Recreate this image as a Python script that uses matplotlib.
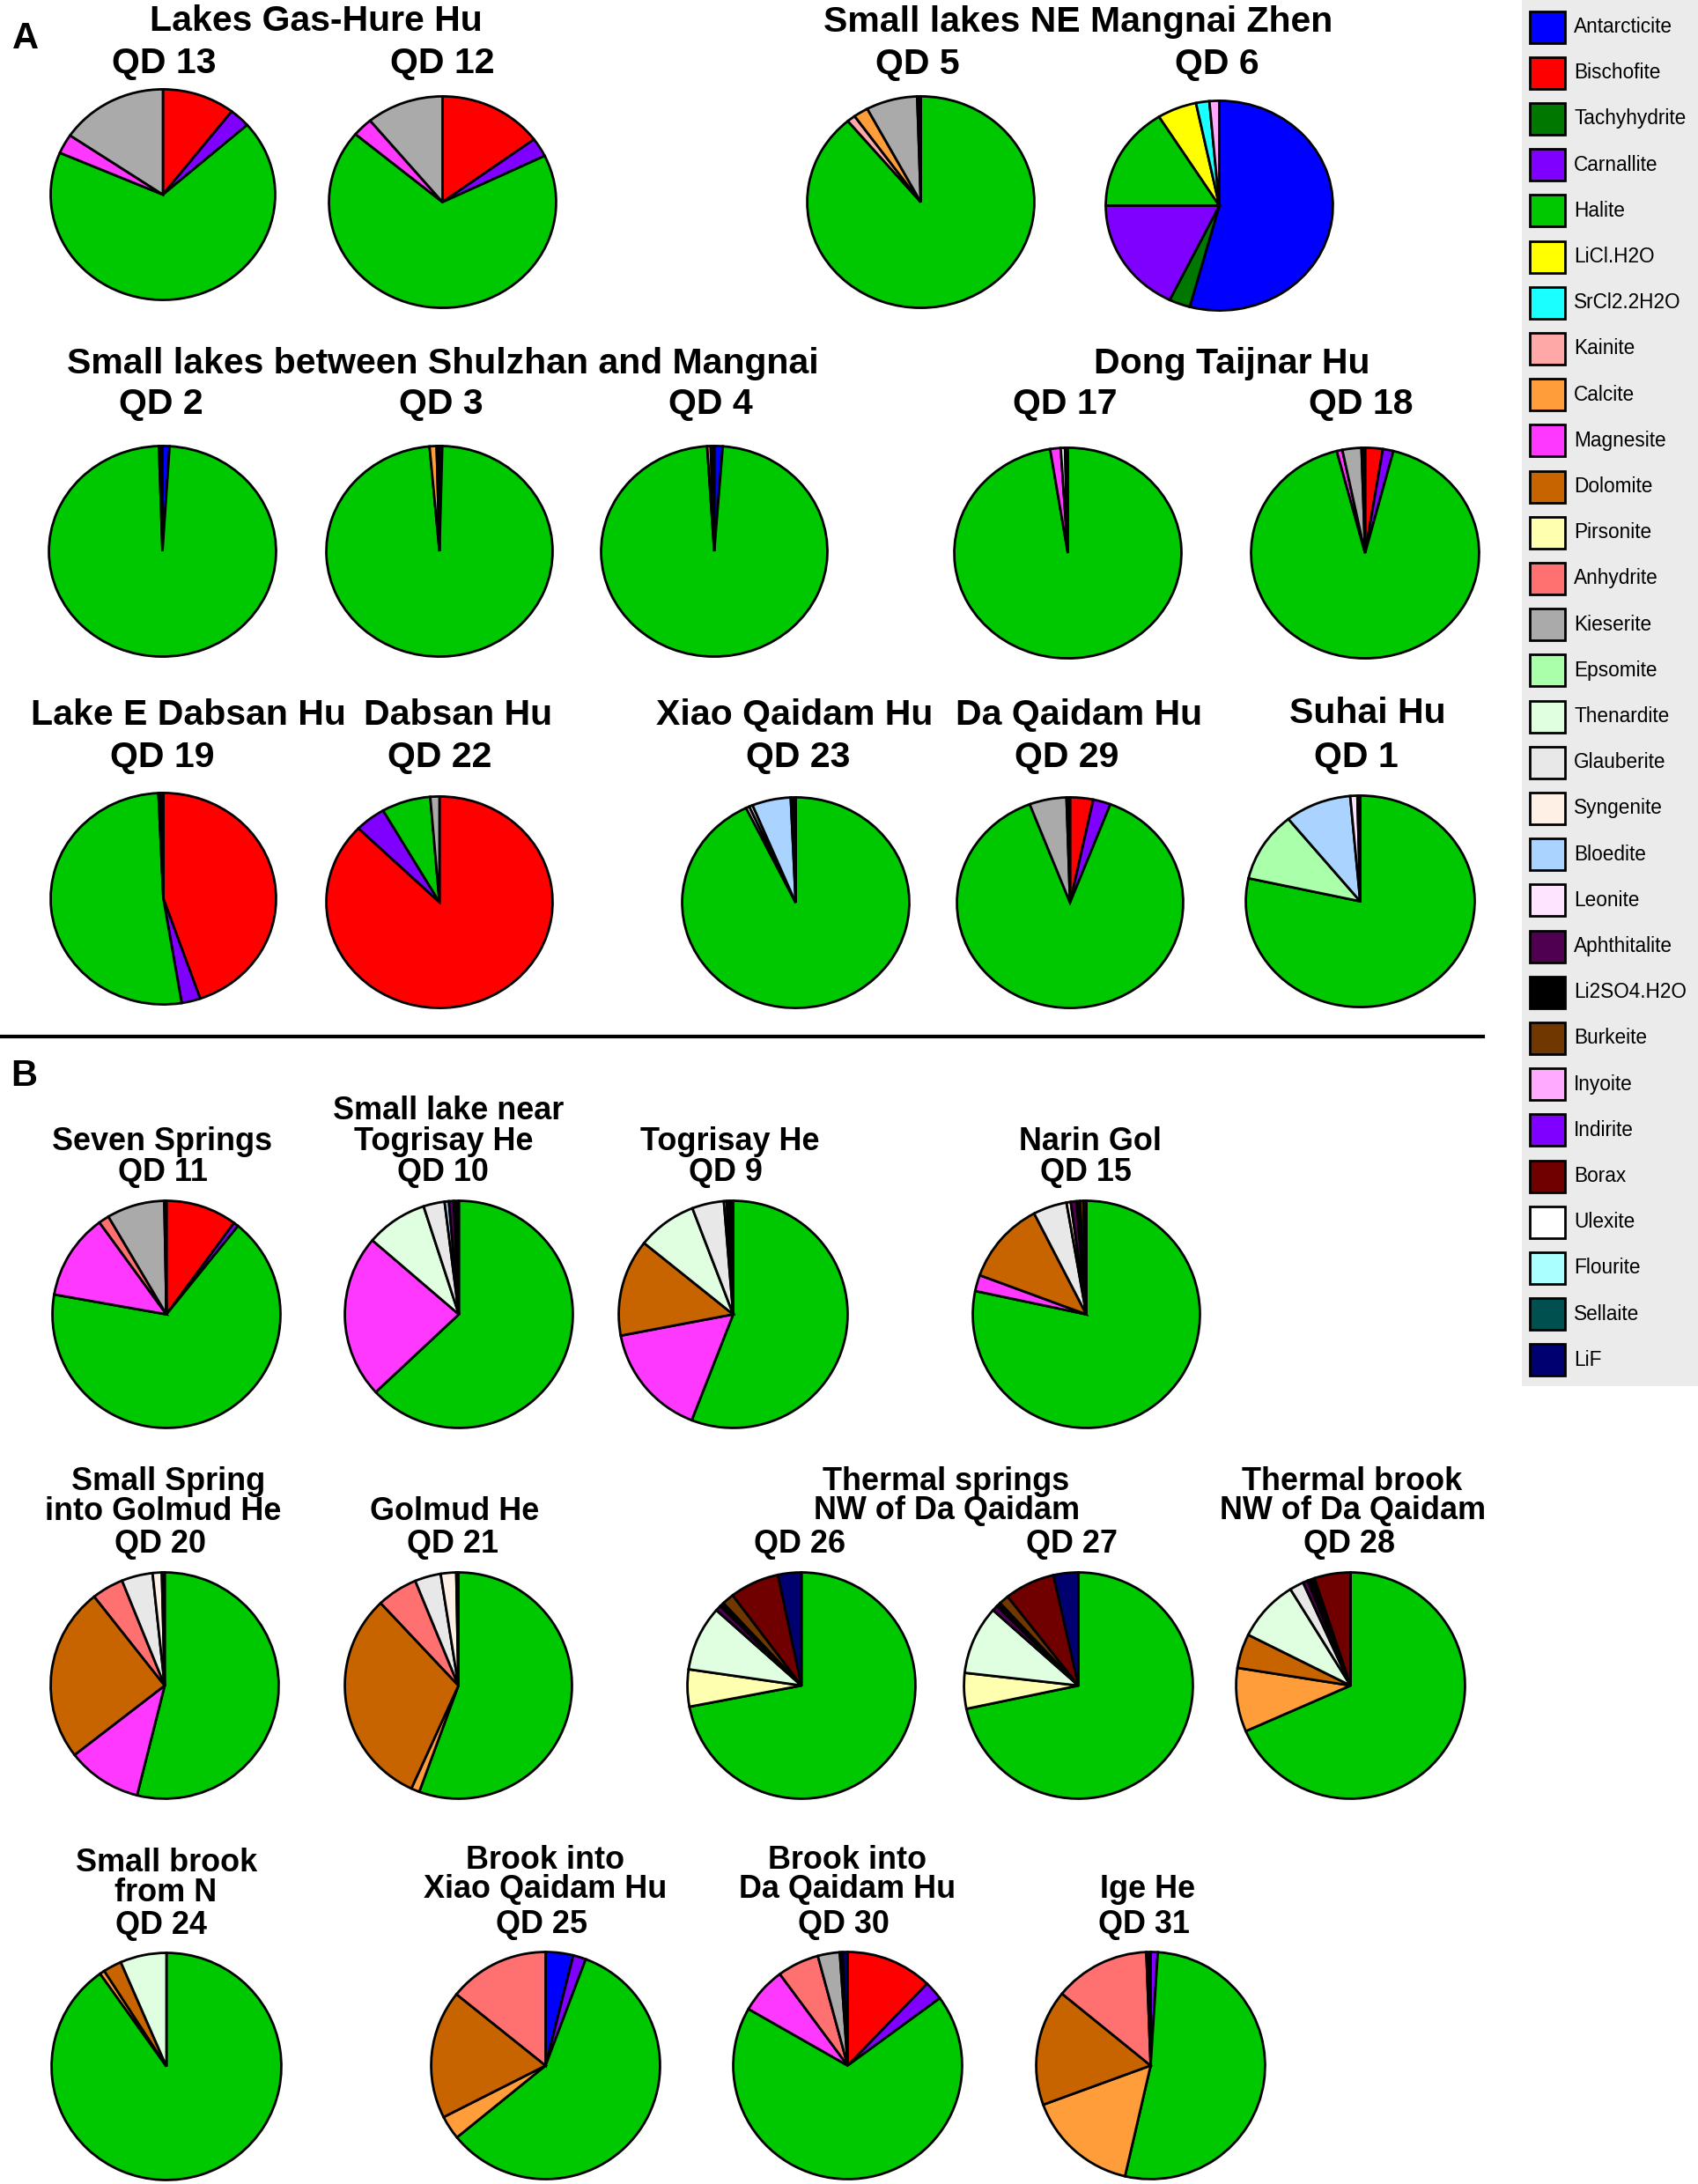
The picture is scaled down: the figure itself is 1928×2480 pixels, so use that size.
import matplotlib
matplotlib.use('Agg')
import matplotlib.pyplot as plt
from matplotlib.patches import Rectangle

W, H = 1928, 2480
FONT = ['Liberation Sans', 'DejaVu Sans']

# legend order = clockwise order of slices, starting at 12 o'clock
minerals = ['Antarcticite', 'Bischofite', 'Tachyhydrite', 'Carnallite', 'Halite',
            'LiCl.H2O', 'SrCl2.2H2O', 'Kainite', 'Calcite', 'Magnesite', 'Dolomite',
            'Pirsonite', 'Anhydrite', 'Kieserite', 'Epsomite', 'Thenardite',
            'Glauberite', 'Syngenite', 'Bloedite', 'Leonite', 'Aphthitalite',
            'Li2SO4.H2O', 'Burkeite', 'Inyoite', 'Indirite', 'Borax', 'Ulexite',
            'Flourite', 'Sellaite', 'LiF']
mineral_colors = ['#0000FF', '#FF0000', '#007800', '#8000FF', '#00C800',
                  '#FFFF00', '#1AFFFF', '#FFA8A8', '#FF9D3A', '#FF38FF', '#C86400',
                  '#FFFFB0', '#FF7070', '#AAAAAA', '#AAFFAA', '#E0FFE0',
                  '#E8E8E8', '#FFF0E6', '#AAD4FF', '#FFE4FF', '#500050',
                  '#000000', '#703800', '#FFAAFF', '#7F00FF', '#700000', '#FFFFFF',
                  '#AAFFFF', '#005050', '#000070']

# mineral shares (%) per sample
qd13 = {'Bischofite': 10.5, 'Carnallite': 3.0, 'Halite': 68.0, 'Magnesite': 3.0, 'Kieserite': 15.5}
qd12 = {'Bischofite': 14.9, 'Carnallite': 2.9, 'Halite': 68.3, 'Magnesite': 2.9, 'Kieserite': 11.0}
qd5 = {'Halite': 88.9, 'Kainite': 1.2, 'Calcite': 2.1, 'Kieserite': 7.3, 'Li2SO4.H2O': 0.5}
qd6 = {'Antarcticite': 54.2, 'Tachyhydrite': 3.0, 'Carnallite': 17.8, 'Halite': 16.1,
       'LiCl.H2O': 5.6, 'SrCl2.2H2O': 1.9, 'Inyoite': 1.4}
qd2 = {'Antarcticite': 1.0, 'Halite': 98.5, 'Li2SO4.H2O': 0.5}
qd3 = {'Carnallite': 0.4, 'Halite': 98.2, 'Calcite': 1.0, 'Li2SO4.H2O': 0.4}
qd4 = {'Antarcticite': 1.2, 'Halite': 97.8, 'Calcite': 0.5, 'Li2SO4.H2O': 0.5}
qd17 = {'Halite': 97.5, 'Magnesite': 1.5, 'Glauberite': 0.6, 'Li2SO4.H2O': 0.4}
qd18 = {'Bischofite': 2.5, 'Carnallite': 1.5, 'Halite': 92.0, 'Magnesite': 0.8,
        'Kieserite': 2.7, 'Li2SO4.H2O': 0.5}
qd19 = {'Bischofite': 44.7, 'Carnallite': 2.7, 'Halite': 51.9, 'Li2SO4.H2O': 0.4, 'Ulexite': 0.3}
qd22 = {'Bischofite': 87.3, 'Carnallite': 4.4, 'Halite': 7.0, 'Kieserite': 1.3}
qd23 = {'Halite': 92.8, 'Thenardite': 0.5, 'Glauberite': 0.5, 'Bloedite': 5.5, 'Li2SO4.H2O': 0.7}
qd29 = {'Bischofite': 3.3, 'Carnallite': 2.5, 'Halite': 88.4, 'Kieserite': 5.3, 'Li2SO4.H2O': 0.5}
qd1 = {'Halite': 78.5, 'Epsomite': 10.7, 'Bloedite': 9.4, 'Leonite': 1.0, 'Li2SO4.H2O': 0.4}
qd11 = {'Bischofite': 10.1, 'Carnallite': 0.7, 'Halite': 67.0, 'Magnesite': 12.2,
        'Anhydrite': 1.5, 'Kieserite': 8.2, 'Li2SO4.H2O': 0.3}
qd10 = {'Halite': 63.0, 'Magnesite': 23.3, 'Thenardite': 8.7, 'Glauberite': 3.0,
        'Bloedite': 0.6, 'Aphthitalite': 0.7, 'Li2SO4.H2O': 0.7}
qd9 = {'Halite': 55.9, 'Magnesite': 16.1, 'Dolomite': 13.8, 'Thenardite': 8.4,
       'Glauberite': 4.5, 'Bloedite': 0.4, 'Aphthitalite': 0.4, 'Li2SO4.H2O': 0.5}
qd15 = {'Halite': 78.3, 'Magnesite': 2.3, 'Dolomite': 11.8, 'Glauberite': 4.8, 'Syngenite': 0.6,
        'Aphthitalite': 0.8, 'Li2SO4.H2O': 0.5, 'Burkeite': 0.5, 'Borax': 0.4}
qd20 = {'Halite': 53.9, 'Magnesite': 10.6, 'Dolomite': 24.9, 'Anhydrite': 4.5,
        'Glauberite': 4.4, 'Syngenite': 1.3, 'Li2SO4.H2O': 0.4}
qd21 = {'Halite': 55.6, 'Calcite': 1.2, 'Dolomite': 31.2, 'Anhydrite': 5.8,
        'Glauberite': 3.7, 'Syngenite': 2.2, 'Li2SO4.H2O': 0.3}
qd26 = {'Halite': 72.0, 'Pirsonite': 5.3, 'Thenardite': 9.3, 'Aphthitalite': 0.8,
        'Li2SO4.H2O': 0.6, 'Burkeite': 1.7, 'Borax': 7.0, 'LiF': 3.3}
qd27 = {'Halite': 71.7, 'Pirsonite': 5.1, 'Thenardite': 9.8, 'Aphthitalite': 0.8,
        'Li2SO4.H2O': 0.6, 'Burkeite': 1.4, 'Borax': 7.1, 'LiF': 3.5}
qd28 = {'Halite': 68.4, 'Calcite': 9.1, 'Dolomite': 4.9, 'Thenardite': 8.8, 'Glauberite': 2.0,
        'Aphthitalite': 0.7, 'Li2SO4.H2O': 1.0, 'Borax': 5.1}
qd24 = {'Halite': 90.2, 'Calcite': 0.7, 'Dolomite': 2.6, 'Thenardite': 6.5}
qd25 = {'Antarcticite': 3.9, 'Carnallite': 1.8, 'Halite': 58.4, 'Calcite': 3.4,
        'Dolomite': 18.3, 'Anhydrite': 14.2}
qd30 = {'Bischofite': 12.2, 'Carnallite': 2.7, 'Halite': 68.4, 'Magnesite': 6.6,
        'Anhydrite': 5.9, 'Kieserite': 3.1, 'Li2SO4.H2O': 0.4, 'LiF': 0.7}
qd31 = {'Carnallite': 1.0, 'Halite': 52.6, 'Calcite': 15.8, 'Dolomite': 16.5,
        'Anhydrite': 13.5, 'Li2SO4.H2O': 0.6}

# pie boxes in pixels: x0, y0, x1, y1 (y from the top)
pie_boxes = [
    (qd13, (56, 100, 314, 342)), (qd12, (372, 108, 633, 351)),
    (qd5, (915, 108, 1176, 351)), (qd6, (1254, 113, 1515, 354)),
    (qd2, (54, 505, 315, 747)), (qd3, (369, 505, 629, 747)), (qd4, (681, 505, 941, 747)),
    (qd17, (1082, 507, 1343, 749)), (qd18, (1419, 507, 1681, 749)),
    (qd19, (56, 899, 315, 1142)), (qd22, (369, 903, 629, 1146)),
    (qd23, (773, 904, 1034, 1146)), (qd29, (1085, 904, 1345, 1146)),
    (qd1, (1413, 902, 1676, 1145)),
    (qd11, (58, 1362, 320, 1623)), (qd10, (390, 1362, 652, 1623)),
    (qd9, (701, 1362, 964, 1623)), (qd15, (1103, 1362, 1364, 1623)),
    (qd20, (56, 1784, 318, 2044)), (qd21, (390, 1784, 651, 2044)),
    (qd26, (779, 1784, 1041, 2044)), (qd27, (1093, 1784, 1356, 2044)),
    (qd28, (1402, 1784, 1665, 2044)),
    (qd24, (57, 2216, 321, 2477)), (qd25, (488, 2215, 751, 2476)),
    (qd30, (831, 2215, 1094, 2476)), (qd31, (1175, 2215, 1438, 2476)),
]

# titles: text, x centre, y of cap centre (px)
titles_a = [('Lakes Gas-Hure Hu', 359, 20), ('QD 13', 186, 68), ('QD 12', 502, 68),
            ('Small lakes NE Mangnai Zhen', 1224, 21), ('QD 5', 1042, 69), ('QD 6', 1382, 69),
            ('Small lakes between Shulzhan and Mangnai', 503, 409), ('Dong Taijnar Hu', 1399, 409),
            ('QD 2', 183, 455), ('QD 3', 501, 455), ('QD 4', 807, 455),
            ('QD 17', 1209, 455), ('QD 18', 1545, 455),
            ('Lake E Dabsan Hu', 214, 808), ('Dabsan Hu', 520, 808), ('Xiao Qaidam Hu', 902, 808),
            ('Da Qaidam Hu', 1225, 808), ('Suhai Hu', 1553, 806),
            ('QD 19', 184, 856), ('QD 22', 499, 856), ('QD 23', 906, 856),
            ('QD 29', 1211, 856), ('QD 1', 1540, 856)]
titles_b = [('Seven Springs', 184, 1293), ('QD 11', 185, 1328),
            ('Small lake near', 509, 1258), ('Togrisay He', 504, 1293), ('QD 10', 503, 1328),
            ('Togrisay He', 829, 1293), ('QD 9', 824, 1328),
            ('Narin Gol', 1238, 1293), ('QD 15', 1233, 1328),
            ('Small Spring', 191, 1679), ('into Golmud He', 185, 1713), ('QD 20', 182, 1750),
            ('Golmud He', 516, 1713), ('QD 21', 514, 1750),
            ('Thermal springs', 1074, 1679), ('NW of Da Qaidam', 1075, 1712),
            ('QD 26', 908, 1750), ('QD 27', 1217, 1750),
            ('Thermal brook', 1535, 1679), ('NW of Da Qaidam', 1536, 1712), ('QD 28', 1532, 1750),
            ('Small brook', 189, 2112), ('from N', 188, 2146), ('QD 24', 183, 2183),
            ('Brook into', 619, 2109), ('Xiao Qaidam Hu', 619, 2142), ('QD 25', 615, 2182),
            ('Brook into', 962, 2109), ('Da Qaidam Hu', 962, 2142), ('QD 30', 958, 2182),
            ('Ige He', 1303, 2142), ('QD 31', 1299, 2182)]

fig = plt.figure(figsize=(W / 100, H / 100), dpi=100)


def px_axes(x0, y0, x1, y1):
    return fig.add_axes([x0 / W, 1 - y1 / H, (x1 - x0) / W, (y1 - y0) / H])


for sample, box in pie_boxes:
    ax = px_axes(*box)
    idx = [i for i, m in enumerate(minerals) if sample.get(m, 0) > 0]
    ax.pie([sample[minerals[i]] for i in idx], colors=[mineral_colors[i] for i in idx],
           startangle=90, counterclock=False,
           wedgeprops=dict(edgecolor='black', linewidth=2.0))
    ax.set_aspect('auto')
    ax.set_xlim(-1.012, 1.012)
    ax.set_ylim(-1.012, 1.012)
    ax.axis('off')


def put_titles(items, px):
    cap = 0.716 * px
    for s, x, y in items:
        fig.text(x / W, 1 - (y + cap / 2) / H, s, ha='center', va='baseline',
                 fontsize=px * 0.72, fontweight='bold', family=FONT)


put_titles(titles_a, 41)
put_titles(titles_b, 36)

# panel letters
fig.text(29 / W, 1 - (40 + 15) / H, 'A', ha='center', va='baseline', fontsize=30,
         fontweight='bold', family=FONT)
fig.text(27 / W, 1 - (1218 + 15) / H, 'B', ha='center', va='baseline', fontsize=30,
         fontweight='bold', family=FONT)

# separator between A and B
fig.add_artist(plt.Line2D([0, 1684 / W], [1 - 1177 / H] * 2, color='black', lw=3,
                          transform=fig.transFigure))

# legend
lax = px_axes(1728, 0, 1928, 1574)
lax.set_xlim(0, 200)
lax.set_ylim(1574, 0)
lax.set_facecolor('#EBEBEB')
lax.set_xticks([])
lax.set_yticks([])
for sp in lax.spines.values():
    sp.set_visible(False)
for i, (m, c) in enumerate(zip(minerals, mineral_colors)):
    yc = 30.5 + 52.2 * i
    lax.add_patch(Rectangle((9, yc - 18), 40, 36, facecolor=c, edgecolor='black', linewidth=2))
    lax.text(59, yc, m, va='center', ha='left', fontsize=16.3, family=FONT)

fig.savefig('out.png', dpi=100, facecolor='white')
